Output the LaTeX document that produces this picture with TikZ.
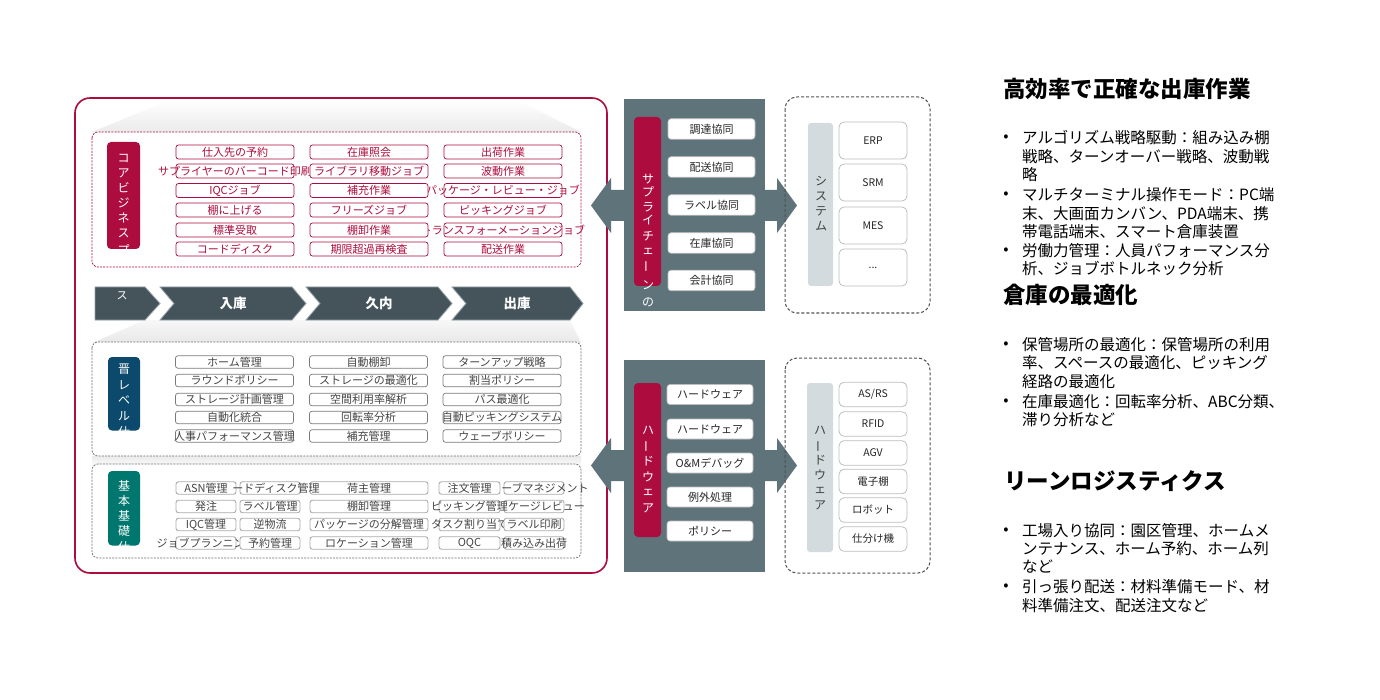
\documentclass[tikz,border=0pt]{standalone}
\usepackage{fontspec}
\setmainfont{Noto Sans CJK JP}
\definecolor{crim}{HTML}{AD0C3E}
\definecolor{slate}{HTML}{5F747A}
\definecolor{band}{HTML}{44545A}
\definecolor{bandedge}{HTML}{93A2A8}
\definecolor{bluep}{HTML}{0B4A6C}
\definecolor{tealp}{HTML}{00776E}
\definecolor{lightp}{HTML}{D4DBDE}
\definecolor{txtg}{HTML}{444444}
\definecolor{midedge}{HTML}{7A7A7A}
\definecolor{basedge}{HTML}{ABABAB}
\definecolor{dashg}{HTML}{6E6E6E}
\definecolor{sysdash}{HTML}{505050}
\definecolor{sysedge}{HTML}{BDBDBD}
\newcommand{\bx}[5]{\node[#1] (#3) at (#4) {}; \node[#2] (#3t) at (#3.center) {#5};}
\newcommand{\vchars}[4]{\foreach \ch/\yy/\rr [count=\k] in {#3} {\node[#4, rotate=\rr] (#1\k) at (#2,\yy) {\ch};}}
\begin{document}
\begin{tikzpicture}[x=1pt,y=-1pt,
 cbox/.style={draw=crim, line width=0.7pt, rounded corners=2.5pt, fill=white, minimum width=118pt, minimum height=14pt, inner sep=0pt, outer sep=0pt},
 ctxt/.style={text=crim, font=\fontsize{11}{12}\selectfont, inner sep=0pt},
 mbox/.style={draw=midedge, line width=0.7pt, rounded corners=2.5pt, fill=white, minimum width=118pt, minimum height=12.5pt, inner sep=0pt, outer sep=0pt},
 gtxt/.style={text=txtg, font=\fontsize{11}{12}\selectfont, inner sep=0pt},
 bbox/.style={draw=basedge, line width=0.9pt, rounded corners=2.5pt, fill=white, minimum width=60pt, minimum height=12.5pt, inner sep=0pt, outer sep=0pt},
 sbox/.style={draw=sysedge, line width=0.6pt, fill=white, rounded corners=3pt, minimum width=87pt, minimum height=20.5pt, inner sep=0pt},
 stxt/.style={text=black!85, font=\fontsize{11}{12}\selectfont, inner sep=0pt},
 rbox/.style={draw=sysedge, line width=0.8pt, fill=white, rounded corners=5pt, minimum width=68pt, inner sep=0pt},
 vch/.style={font=\fontsize{12}{12}\selectfont, inner sep=0pt},
 chev/.style={fill=band, draw=bandedge, line width=0.8pt},
 chevtxt/.style={text=white, font=\bfseries\fontsize{13.5}{14}\selectfont, inner sep=0pt},
 dbox/.style={dash pattern=on 2pt off 1.2pt, line width=0.7pt, rounded corners=6pt},
 sdash/.style={dash pattern=on 3pt off 2pt, line width=1pt, draw=sysdash, rounded corners=12pt},
 rtext/.style={anchor=west, inner sep=0pt, font=\fontsize{15.5}{17}\selectfont},
 rhead/.style={anchor=west, inner sep=0pt, font=\bfseries\fontsize{22.5}{24}\selectfont},
 bul/.style={inner sep=0pt, font=\fontsize{15.5}{17}\selectfont}
]
\useasboundingbox (0,0) rectangle (1380,700);
\fill[white] (0,0) rectangle (1380,700);

% main frame
\draw[crim, line width=1.6pt, rounded corners=15pt, fill=white] (75,98) rectangle (607,573);
% gradients
\shade[top color=white, bottom color=gray!16] (170,100) -- (517,100) -- (581,132) -- (92,132) -- cycle;
\shade[top color=gray!6, bottom color=gray!18] (145,320) -- (570,320) -- (581,343) -- (92,343) -- cycle;
\shade[top color=gray!16, bottom color=gray!6] (92,456) rectangle (581,464);

% core dashed box
\draw[dbox, draw=crim, fill=white] (92,132) rectangle (581,267);
\fill[crim, rounded corners=4pt] (107,142) rectangle (140,249);
\begin{scope}
\clip[rounded corners=4pt] (107,142) rectangle (140,249);
\vchars{cp}{123.5}{コ/158/0,ア/173/0,ビ/188/0,ジ/203/0,ネ/218/0,ス/233/0,プ/250/0}{vch,text=white}
\end{scope}
\foreach \yy/\lt [count=\k] in {152/仕入先の予約,171/サプライヤーのバーコード印刷,190.5/IQCジョブ,210/棚に上げる,230/標準受取,249/コードディスク}
 {\bx{cbox}{ctxt}{ca\k}{235,\yy}{\lt}}
\foreach \yy/\lt [count=\k] in {152/出荷作業,171/波動作業,190.5/パッケージ・レビュー・ジョブ,210/ピッキングジョブ,230/トランスフォーメーションジョブ,249/配送作業}
 {\bx{cbox}{ctxt}{cc\k}{503,\yy}{\lt}}
\foreach \yy/\lt [count=\k] in {152/在庫照会,171/ライブラリ移動ジョブ,190.5/補充作業,210/フリーズジョブ,230/棚卸作業,249/期限超過再検査}
 {\bx{cbox}{ctxt}{cb\k}{369,\yy}{\lt}}

% chevron band
\path[chev] (95,287) -- (145,287) -- (160,303.5) -- (145,320) -- (95,320) -- cycle;
\path[chev] (160,287) -- (292,287) -- (306,303.5) -- (292,320) -- (160,320) -- (174,303.5) -- cycle;
\path[chev] (306,287) -- (438,287) -- (452,303.5) -- (438,320) -- (306,320) -- (320,303.5) -- cycle;
\path[chev] (452,287) -- (570,287) -- (583,303.5) -- (570,320) -- (452,320) -- (466,303.5) -- cycle;
\node[text=white, font=\fontsize{11}{12}\selectfont, inner sep=0pt] (ch1) at (122,296) {ス};
\node[chevtxt] (ch2) at (233,303.5) {入庫};
\node[chevtxt] (ch3) at (379,303.5) {久内};
\node[chevtxt] (ch4) at (517,303.5) {出庫};

% middle level
\draw[dbox, draw=dashg, fill=white] (92,342) rectangle (581,456);
\fill[bluep, rounded corners=4pt] (108,357) rectangle (140,430.5);
\begin{scope}
\clip[rounded corners=4pt] (108,357) rectangle (140,430.5);
\vchars{mp}{124}{晋/369/0,レ/385/0,ベ/400/0,ル/416/0,仕/432/0}{vch,text=white}
\end{scope}
\foreach \yy/\lt [count=\k] in {362/ホーム管理,380.5/ラウンドポリシー,399.5/ストレージ計画管理,417.5/自動化統合,436/人事パフォーマンス管理}
 {\bx{mbox}{gtxt}{ma\k}{234.5,\yy}{\lt}}
\foreach \yy/\lt [count=\k] in {362/自動棚卸,380.5/ストレージの最適化,399.5/空間利用率解析,417.5/回転率分析,436/補充管理}
 {\bx{mbox}{gtxt}{mb\k}{368.5,\yy}{\lt}}
\foreach \yy/\lt [count=\k] in {362/ターンアップ戦略,380.5/割当ポリシー,399.5/パス最適化,417.5/自動ピッキングシステム,436/ウェーブポリシー}
 {\bx{mbox}{gtxt}{mc\k}{502,\yy}{\lt}}

% basic level
\draw[dbox, draw=dashg, fill=white] (92,464) rectangle (581,558);
\fill[tealp, rounded corners=4pt] (108,471) rectangle (140,545.5);
\begin{scope}
\clip[rounded corners=4pt] (108,471) rectangle (140,545.5);
\vchars{bp}{124}{基/486/0,本/501/0,基/516/0,礎/531/0,仕/547/0}{vch,text=white}
\end{scope}
% row 1
\bx{bbox,minimum width=118pt}{gtxt}{bc1}{369,488}{荷主管理}
\bx{bbox}{gtxt}{bb1}{270,488}{}
\bx{bbox}{gtxt}{ba1}{206,488}{ASN管理}
\node[gtxt] (bb1x) at (276,488) {ードディスク管理};
\bx{bbox}{gtxt}{be1}{534,488}{}
\bx{bbox,minimum width=61pt}{gtxt}{bd1}{469.5,488}{注文管理}
\node[gtxt] (be1x) at (545,488) {ーブマネジメント};
% row 2
\bx{bbox}{gtxt}{ba2}{206,506.5}{発注}
\bx{bbox}{gtxt}{bb2}{270,506.5}{ラベル管理}
\bx{bbox,minimum width=118pt}{gtxt}{bc2}{369,506.5}{棚卸管理}
\bx{bbox}{gtxt}{be2}{534,506.5}{}
\node[gtxt] (be2x) at (546.5,506.5) {ケージレビュー};
\bx{bbox,minimum width=61pt}{gtxt}{bd2}{469.5,506.5}{ピッキング管理}
% row 3
\bx{bbox}{gtxt}{ba3}{206,524.5}{IQC管理}
\bx{bbox}{gtxt}{bb3}{270,524.5}{逆物流}
\bx{bbox,minimum width=118pt}{gtxt}{bc3}{369,524.5}{パッケージの分解管理}
\bx{bbox,minimum width=61pt}{gtxt}{bd3}{469.5,524.5}{タスク割り当て}
\bx{bbox}{gtxt}{be3}{534,524.5}{ラベル印刷}
% row 4
\bx{bbox}{gtxt}{ba4}{206,543}{}
\node[gtxt, anchor=west] (ba4x) at (156.5,543) {ジョブプランニング};
\bx{bbox}{gtxt}{bb4}{270,543}{予約管理}
\bx{bbox,minimum width=118pt}{gtxt}{bc4}{369,543}{ロケーション管理}
\bx{bbox,minimum width=61pt}{gtxt}{bd4}{469.5,543}{OQC}
\bx{bbox}{gtxt}{be4}{534,543}{積み込み出荷}

% supply chain column
\node[fill=slate, minimum width=141pt, minimum height=212pt, inner sep=0pt] (sc) at (694.5,205.5) {};
\fill[slate] (624,190) -- (611,190) -- (611,178) -- (591,205.5) -- (611,233) -- (611,221) -- (624,221) -- cycle;
\fill[slate] (764,190) -- (777,190) -- (777,178) -- (797,205.5) -- (777,233) -- (777,221) -- (764,221) -- cycle;
\fill[crim, rounded corners=4pt] (634,117) rectangle (661,286);
\begin{scope}
\clip (624,99) rectangle (765,311);
\vchars{sp}{648}{サ/179/0,プ/192/0,ラ/207/0,イ/220/0,チ/236/0,ェ/251/0,ー/267/90,ン/285/0,の/302/0,統/318/0}{vch,text=white}
\end{scope}
\foreach \yy/\lt [count=\k] in {129/調達協同,167/配送協同,205/ラベル協同,243/在庫協同,280.5/会計協同}
 {\bx{sbox}{stxt}{sb\k}{711.5,\yy}{\lt}}

% hardware column
\node[fill=slate, minimum width=141pt, minimum height=212pt, inner sep=0pt] (hc) at (694.5,466) {};
\fill[slate] (624,450) -- (611,450) -- (611,438) -- (591,465.5) -- (611,493) -- (611,481) -- (624,481) -- cycle;
\fill[slate] (764,450) -- (777,450) -- (777,438) -- (797,465.5) -- (777,493) -- (777,481) -- (764,481) -- cycle;
\fill[crim, rounded corners=4pt] (634,383) rectangle (661,537);
\vchars{hp}{648}{ハ/430/0,ー/446/90,ド/461/0,ウ/477/0,ェ/492/0,ア/508/0}{vch,text=white}
\foreach \yy/\lt [count=\k] in {394.5/ハードウェア,429/ハードウェア,463/O\&Mデバッグ,497/例外処理,531/ポリシー}
 {\bx{sbox,minimum width=86pt,minimum height=20pt}{stxt}{hb\k}{710,\yy}{\lt}}

% system box
\draw[sdash] (785,97) rectangle (930,313);
\fill[lightp, rounded corners=3pt] (808,123) rectangle (833,286);
\vchars{yp}{821}{シ/181/0,ス/196/0,テ/211/0,ム/226/0}{vch,text=black!75}
\foreach \yy/\lt [count=\k] in {140.5/ERP,182.5/SRM,225.5/MES}
 {\bx{rbox,minimum height=37pt}{stxt,font=\fontsize{10.5}{12}\selectfont}{yb\k}{873,\yy}{\lt}}
\bx{rbox,minimum height=37pt}{stxt,font=\fontsize{10.5}{12}\selectfont}{yb4}{873,267.5}{...}

% hardware right box
\draw[sdash] (785,358) rectangle (930,573);
\fill[lightp, rounded corners=3pt] (807,383) rectangle (833,552);
\vchars{wp}{820}{ハ/430/0,ー/446/90,ド/460/0,ウ/475/0,ェ/490/0,ア/505/0}{vch,text=black!75}
\foreach \yy/\lt [count=\k] in {394.5/{AS/RS},424/RFID,453/AGV,481.5/電子棚,510/ロボット,539/仕分け機}
 {\bx{rbox,minimum height=24.5pt}{stxt,font=\fontsize{10.5}{12}\selectfont}{wb\k}{873,\yy}{\lt}}

% right text
\node[rhead] (h1) at (1003,89) {高効率で正確な出庫作業};
\node[rhead] (h2) at (1003,295) {倉庫の最適化};
\node[rhead] (h3) at (1004,481) {リーンロジスティクス};
\foreach \yy [count=\k] in {138,195,251,345,402,531,587}
 {\node[bul] (bu\k) at (1006,\yy) {•};}
\foreach \yy/\lt [count=\k] in {138/アルゴリズム戦略駆動：組み込み棚,157/戦略、ターンオーバー戦略、波動戦,175/略,195/マルチターミナル操作モード：PC端,214/末、大画面カンバン、PDA端末、携,232/帯電話端末、スマート倉庫装置,251/労働力管理：人員パフォーマンス分,269/析、ジョブボトルネック分析,345/保管場所の最適化：保管場所の利用,363/率、スペースの最適化、ピッキング,382/経路の最適化,402/在庫最適化：回転率分析、ABC分類、,420/滞り分析など,531/工場入り協同：園区管理、ホームメ,549/ンテナンス、ホーム予約、ホーム列,567/など,587/引っ張り配送：材料準備モード、材,606/料準備注文、配送注文など}
 {\node[rtext] (rt\k) at (1022,\yy) {\lt};}
\end{tikzpicture}
\end{document}
